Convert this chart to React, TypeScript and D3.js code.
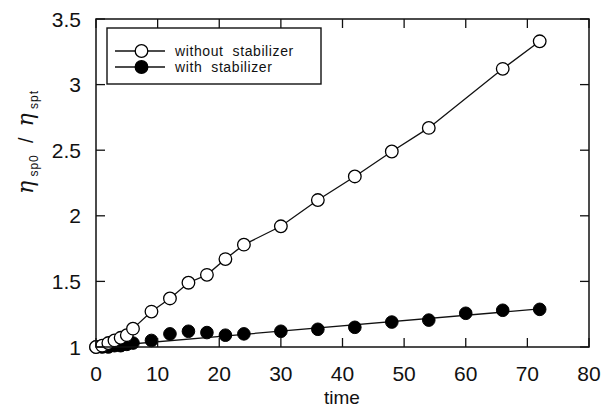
import React from "react";
import * as d3 from "d3";

// time points and reduced viscosity ratio for each sample
const timeWithout = [0, 1, 2, 3, 4, 5, 6, 9, 12, 15, 18, 21, 24, 30, 36, 42, 48, 54, 66, 72];
const ratioWithout = [1.0, 1.01, 1.03, 1.05, 1.07, 1.09, 1.14, 1.27, 1.37, 1.49, 1.55, 1.67, 1.78, 1.92, 2.12, 2.3, 2.49, 2.67, 3.12, 3.33];

const timeWith = [0, 1, 2, 3, 4, 5, 6, 9, 12, 15, 18, 21, 24, 30, 36, 42, 48, 54, 60, 66, 72];
const ratioWith = [1.0, 1.0, 1.0, 1.01, 1.01, 1.02, 1.03, 1.05, 1.1, 1.12, 1.11, 1.09, 1.1, 1.12, 1.135, 1.15, 1.19, 1.205, 1.257, 1.28, 1.287];

// straight fit drawn through the stabilized series
const fitWithTime = [0, 72];
const fitWithRatio = [1.0, 1.29];

const xTicks = [0, 10, 20, 30, 40, 50, 60, 70, 80];
const yTicks = [1, 1.5, 2, 2.5, 3, 3.5];
const yTickLabels = ["1", "1.5", "2", "2.5", "3", "3.5"];

const seriesNames = ["without  stabilizer", "with  stabilizer"];

const W = 606;
const H = 408;
const plot = { left: 96, right: 589, top: 19, bottom: 347 };
const tickLen = 9;
const r = 6.3;
const font = "'Liberation Sans', Arial, sans-serif";

export default function App() {
  const x = d3.scaleLinear().domain([0, 80]).range([plot.left, plot.right]);
  const y = d3.scaleLinear().domain([1, 3.5]).range([plot.bottom, plot.top]);

  const without = timeWithout.map((t, i) => [t, ratioWithout[i]] as [number, number]);
  const withS = timeWith.map((t, i) => [t, ratioWith[i]] as [number, number]);
  const fit = fitWithTime.map((t, i) => [t, fitWithRatio[i]] as [number, number]);

  const line = d3
    .line<[number, number]>()
    .x((d) => x(d[0]))
    .y((d) => y(d[1]));

  const legend = { x0: 107, x1: 321, y0: 28, y1: 84 };
  const legRows = [51, 67];

  return (
    <svg
      width={W}
      height={H}
      style={{ position: "absolute", left: 0, top: 0, display: "block", background: "#fff" }}
    >
      <rect x={0} y={0} width={W} height={H} fill="#fff" />

      {/* fitted / connecting lines */}
      <path d={line(fit) || ""} fill="none" stroke="#111" strokeWidth={1.3} />
      <path d={line(without) || ""} fill="none" stroke="#111" strokeWidth={1.3} />

      {/* stabilized: filled markers */}
      {withS.map((d, i) => (
        <circle key={"w" + i} cx={x(d[0])} cy={y(d[1])} r={r} fill="#000" stroke="#000" strokeWidth={1} />
      ))}
      {/* unstabilized: open markers */}
      {without.map((d, i) => (
        <circle key={"o" + i} cx={x(d[0])} cy={y(d[1])} r={r} fill="#fff" stroke="#000" strokeWidth={1.3} />
      ))}

      {/* frame */}
      <rect
        x={plot.left}
        y={plot.top}
        width={plot.right - plot.left}
        height={plot.bottom - plot.top}
        fill="none"
        stroke="#111"
        strokeWidth={1.5}
      />

      {/* inward ticks on all four sides */}
      {xTicks.map((t) => (
        <g key={"xt" + t}>
          <line x1={x(t)} x2={x(t)} y1={plot.bottom} y2={plot.bottom - tickLen} stroke="#111" strokeWidth={1.3} />
          <line x1={x(t)} x2={x(t)} y1={plot.top} y2={plot.top + tickLen} stroke="#111" strokeWidth={1.3} />
          <text x={x(t)} y={381} textAnchor="middle" fontFamily={font} fontSize={21} fill="#111">
            {t}
          </text>
        </g>
      ))}
      {yTicks.map((v, i) => (
        <g key={"yt" + v}>
          <line x1={plot.left} x2={plot.left + tickLen} y1={y(v)} y2={y(v)} stroke="#111" strokeWidth={1.3} />
          <line x1={plot.right} x2={plot.right - tickLen} y1={y(v)} y2={y(v)} stroke="#111" strokeWidth={1.3} />
          <text x={81} y={y(v) + 7.5} textAnchor="end" fontFamily={font} fontSize={21} fill="#111">
            {yTickLabels[i]}
          </text>
        </g>
      ))}

      {/* axis titles */}
      <text x={342} y={404} textAnchor="middle" fontFamily={font} fontSize={19} fill="#111">
        time
      </text>
      <text
        transform="translate(33,142) rotate(-90)"
        textAnchor="middle"
        fill="#111"
        fontFamily={font}
        style={{ whiteSpace: "pre" }}
      >
        <tspan fontFamily="'DejaVu Serif', serif" fontStyle="italic" fontSize={22}>η</tspan>
        <tspan fontSize={12} dy={5} letterSpacing={1}>{" sp0"}</tspan>
        <tspan fontSize={20} dy={-5}>{"  /  "}</tspan>
        <tspan fontFamily="'DejaVu Serif', serif" fontStyle="italic" fontSize={22}>η</tspan>
        <tspan fontSize={12} dy={5} letterSpacing={1}>{" spt"}</tspan>
      </text>

      {/* legend */}
      <rect
        x={legend.x0}
        y={legend.y0}
        width={legend.x1 - legend.x0}
        height={legend.y1 - legend.y0}
        fill="#fff"
        stroke="#111"
        strokeWidth={1.4}
      />
      {seriesNames.map((name, i) => (
        <g key={"lg" + i}>
          <line x1={115} x2={165} y1={legRows[i]} y2={legRows[i]} stroke="#111" strokeWidth={1.3} />
          <circle
            cx={141.5}
            cy={legRows[i]}
            r={r}
            fill={i === 0 ? "#fff" : "#000"}
            stroke="#000"
            strokeWidth={1.3}
          />
          <text
            x={175}
            y={legRows[i] + 5}
            fontFamily={font}
            fontSize={14}
            letterSpacing={0.6}
            fill="#111"
            style={{ whiteSpace: "pre" }}
          >
            {name}
          </text>
        </g>
      ))}
    </svg>
  );
}
